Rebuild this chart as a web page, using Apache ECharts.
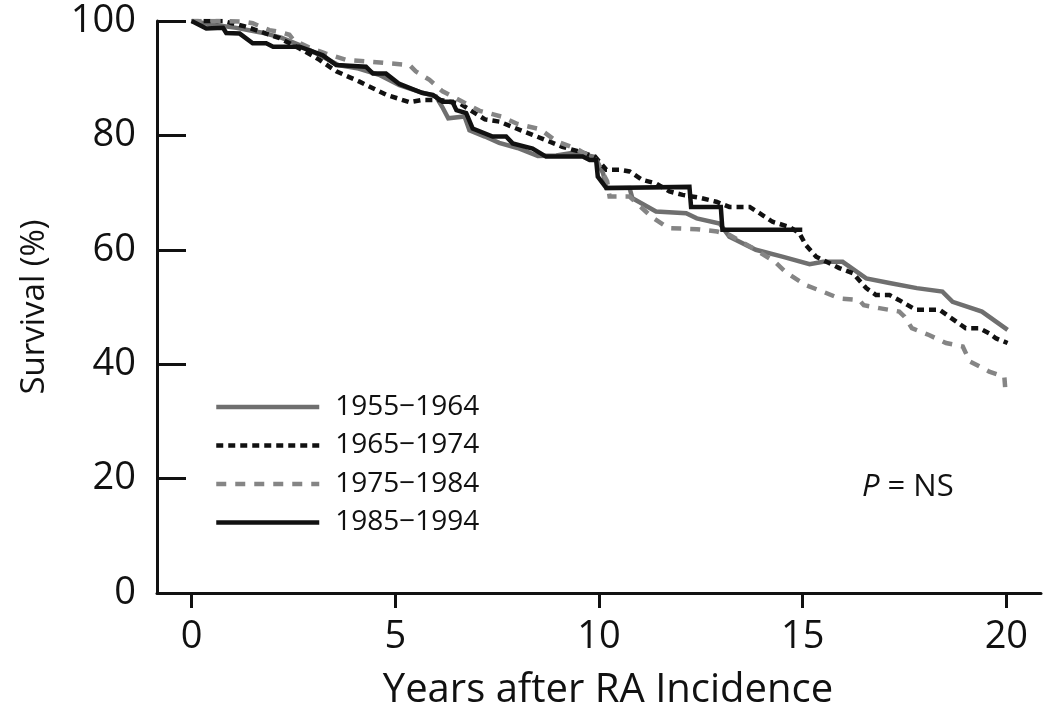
<!DOCTYPE html>
<html>
<head>
<meta charset="utf-8">
<script src="https://cdn.jsdelivr.net/npm/echarts@6/dist/echarts.min.js"></script>
<style>html,body{margin:0;padding:0;background:#fff}#c{width:1050px;height:718px}</style>
</head>
<body>
<div id="c"></div>
<script>
const seriesNames = ['1955\u22121964', '1965\u22121974', '1975\u22121984', '1985\u22121994'];
const xTicks = [0, 5, 10, 15, 20];
const yTicks = [0, 20, 40, 60, 80, 100];

const s1955 = [[0,100],[0.5,99.4],[1.1,98.8],[1.7,98],[2.2,97.1],[2.65,95.8],[3.15,94],[3.6,92.3],[4.1,91.7],[4.6,90.6],[5.1,88.8],[5.6,87.6],[6.0,86.8],[6.15,85],[6.3,83],[6.7,83.3],[6.82,80.9],[7.2,79.8],[7.55,78.7],[8.0,77.8],[8.5,76.4],[8.95,76.5],[9.4,77],[9.85,76.3],[9.95,75.5],[10.1,73.4],[10.18,70.8],[10.75,70.8],[10.82,69],[11.4,66.7],[12.14,66.4],[12.4,65.5],[12.96,64.6],[13.2,62.3],[13.85,60],[14.5,58.8],[15.17,57.5],[15.5,57.9],[15.98,57.9],[16.56,55],[17.13,54.2],[17.8,53.3],[18.43,52.7],[18.68,50.9],[19.4,49.2],[20.03,46]];
const s1965 = [[0,100],[0.77,100],[1.34,99],[2.16,97],[2.65,95.2],[3.14,93.2],[3.55,91.2],[4.12,89.4],[4.78,87.1],[5.35,85.8],[5.67,86.2],[6.1,86.2],[6.6,85.5],[7.2,82.8],[7.56,82.4],[7.97,81.2],[8.37,80.1],[8.79,78.9],[9.1,78],[9.5,77.2],[9.9,76.3],[10.18,74],[10.5,74],[10.75,73.7],[11.07,72.2],[11.4,71.6],[11.73,70.2],[12.05,69.6],[12.47,69.1],[12.88,68.4],[13.2,67.5],[13.7,67.5],[13.94,66.4],[14.26,64.9],[14.67,64],[14.92,62.9],[15.08,60.8],[15.33,58.8],[15.9,56.8],[16.23,55.9],[16.56,53.3],[16.8,52.1],[17.13,52.1],[17.37,51.2],[17.78,49.5],[18.36,49.5],[18.6,48.3],[19.0,46.3],[19.34,46.3],[19.58,45.4],[19.75,44.5],[20.03,43.7]];
const s1975 = [[0,100],[0.77,100],[1.26,99.9],[1.5,99.6],[1.91,98.4],[2.16,98.1],[2.4,97.6],[2.5,96.7],[2.9,95.3],[3.3,94.3],[3.8,93.2],[4.37,92.9],[4.86,92.6],[5.35,92.3],[5.5,91.2],[5.84,89.7],[6.16,87.7],[6.65,85.9],[7.07,84.3],[7.6,83.3],[8.0,82.0],[8.55,81.1],[8.95,79],[9.44,77.7],[9.93,75.7],[10.2,72],[10.26,69.3],[10.75,69.3],[11.3,65.7],[11.7,63.8],[12.4,63.6],[12.9,63.2],[13.2,62.6],[13.8,60.2],[14.3,58],[14.6,56],[15.08,53.8],[15.49,52.7],[15.9,51.5],[16.39,51.2],[16.5,50.3],[16.88,49.8],[17.37,49.2],[17.5,48.3],[17.68,46.3],[18.1,45.1],[18.52,43.7],[18.93,43.1],[19.1,40.5],[19.58,38.7],[19.95,37.8],[19.97,36]];
const s1985 = [[0,100],[0.36,98.7],[0.77,98.8],[0.85,97.9],[1.18,97.8],[1.5,96.1],[1.83,96.1],[2.0,95.5],[2.65,95.5],[3.22,94],[3.55,92.3],[4.28,92],[4.45,90.8],[4.77,90.8],[5.1,89],[5.67,87.4],[5.92,87.1],[6.16,85.9],[6.4,85.9],[6.5,84.4],[6.74,83.9],[6.9,81.2],[7.39,79.8],[7.72,79.8],[7.88,78.6],[8.37,77.7],[8.7,76.3],[9.6,76.3],[9.77,75.7],[9.93,75.7],[9.97,72.8],[10.18,70.8],[12.22,71],[12.26,67.5],[12.99,67.5],[13.03,63.5],[14.99,63.5]];

const FONT = 'Open Sans';
const chart = echarts.init(document.getElementById('c'), null, {renderer: 'canvas'});

function mk(name, data, color, width, type) {
  return {
    name: name, type: 'line', data: data, showSymbol: false, symbol: 'none',
    lineStyle: {color: color, width: width, type: type, cap: 'butt', join: 'miter'},
    itemStyle: {color: color}, animation: false, z: 2
  };
}

chart.setOption({
  backgroundColor: '#fff',
  animation: false,
  grid: {left: 157, right: 9, top: 21, bottom: 125, containLabel: false},
  xAxis: {
    type: 'value', min: -0.85, max: 20.85,
    name: 'Years after RA Incidence', nameLocation: 'middle', nameGap: 78,
    nameTextStyle: {fontFamily: FONT, fontSize: 40, color: '#111', padding: [0, 0, 0, 18]},
    axisLine: {show: true, lineStyle: {color: '#111', width: 3}},
    axisTick: {show: true, inside: false, length: 15, lineStyle: {color: '#111', width: 3}, customValues: xTicks},
    axisLabel: {fontFamily: FONT, fontSize: 38, color: '#111', margin: 25, customValues: xTicks},
    splitLine: {show: false}
  },
  yAxis: {
    type: 'value', min: 0, max: 100, interval: 20,
    name: 'Survival (%)', nameLocation: 'middle', nameGap: 106,
    nameTextStyle: {fontFamily: FONT, fontSize: 33, color: '#111'},
    axisLine: {show: true, onZero: false, lineStyle: {color: '#111', width: 3}},
    axisTick: {show: true, inside: true, length: 29, lineStyle: {color: '#111', width: 3}},
    axisLabel: {fontFamily: FONT, fontSize: 38, color: '#111', margin: 21},
    splitLine: {show: false}
  },
  legend: {
    show: true, padding: 0,
    orient: 'vertical', left: 214, top: 393,
    itemWidth: 103, itemHeight: 14, itemGap: 10.5,
    itemStyle: {opacity: 0},
    lineStyle: {width: 4.5},
    textStyle: {fontFamily: FONT, fontSize: 28, color: '#111', lineHeight: 28, padding: [0, 0, 0, 11]},
    data: seriesNames,
    selectedMode: false
  },
  graphic: [{
    type: 'text', left: 862, top: 472,
    style: {
      rich: {i: {fontFamily: FONT, fontStyle: 'italic', fontSize: 31, fill: '#111'}, n: {fontFamily: FONT, fontSize: 31, fill: '#111'}},
      text: '{i|P}{n| = NS}'
    }
  }],
  series: [
    mk(seriesNames[0], s1955, '#6f6f6f', 4.5, 'solid'),
    mk(seriesNames[1], s1965, '#111', 4.5, [7, 5]),
    mk(seriesNames[2], s1975, '#858585', 4.5, [10, 9]),
    mk(seriesNames[3], s1985, '#111', 4.5, 'solid')
  ]
});
</script>
</body>
</html>
